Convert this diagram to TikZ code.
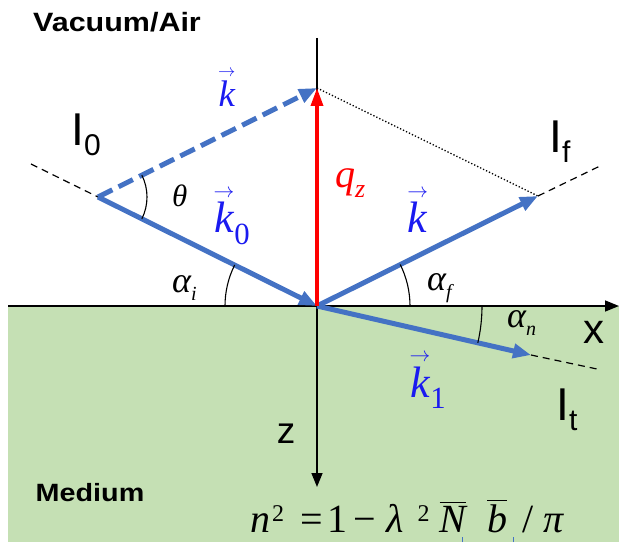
\documentclass[tikz,border=0pt]{standalone}
\usepackage{amsmath}
\usepackage{fontspec}
\setmainfont{Liberation Serif}
\setsansfont{Liberation Sans}
\usetikzlibrary{arrows.meta}

\definecolor{beamblue}{HTML}{4472C4}
\definecolor{mediumgreen}{HTML}{C5E0B4}
\definecolor{labelblue}{HTML}{1A1AF0}

\newcommand{\kvec}[1]{$\overset{\scriptscriptstyle\rightarrow}{\textit{k}}_{\textrm{#1}}$}
\newcommand{\intens}[1]{\sffamily\fontsize{46}{46}\selectfont I\raisebox{-10pt}{\fontsize{30}{30}\selectfont #1}}
\newcommand{\supdigit}{\raisebox{11pt}{\fontsize{24}{24}\selectfont 2}}

\begin{document}
\begin{tikzpicture}[x=1pt,y=1pt,
  axis/.style={line width=1.5pt,-{Triangle[length=14pt,width=11pt]}},
  beam/.style={beamblue,line width=5pt,-{Triangle[length=18pt,width=14pt]}},
  guide/.style={line width=1.2pt,dash pattern=on 7pt off 5pt},
  angle/.style={line width=1.1pt},
  kvlabel/.style={text=labelblue,font=\fontsize{44}{44}\selectfont,anchor=base},
  greek/.style={font=\fontsize{36}{36}\selectfont\itshape,anchor=base west,inner sep=0pt},
  region/.style={font=\fontsize{26.5}{26.5}\selectfont\sffamily\bfseries,xscale=1.15}]
\useasboundingbox (0,0) rectangle (619,542);
\fill[mediumgreen] (8,0) rectangle (619,236);

% points of the scattering geometry
\coordinate (O) at (317,236);
\coordinate (S) at (98,345);
\coordinate (T) at (317,454);
\coordinate (R) at (538,346);
\coordinate (Tr) at (531,187);
\coordinate (Iend) at (31,378);
\coordinate (Fend) at (600,376);
\coordinate (Tend) at (597,173);
\coordinate (Ztop) at (317,504);
\coordinate (Zbot) at (317,55);
\coordinate (Xl) at (8,236);
\coordinate (Xr) at (619,236);

% axes
\draw[axis] (Xl) -- (Xr);
\draw[axis] (Ztop) -- (Zbot);

% beam extensions
\draw[guide] (Iend) -- (S);
\draw[guide] (R) -- (Fend);
\draw[guide] (Tr) -- (Tend);
\draw[line width=1.3pt,dotted] (T) -- (R);

% wave vectors
\draw[beam,dash pattern=on 16pt off 7pt] (S) -- (T);
\draw[beam] (S) -- (O);
\draw[beam] (O) -- (R);
\draw[beam] (O) -- (Tr);
\draw[red,line width=3.5pt,-{Triangle[length=18pt,width=12pt]}] (O) -- (T);

% angles
\draw[angle] (S) ++(-26.5:49) arc[start angle=-26.5,end angle=26.5,radius=49];
\draw[angle] (O) ++(153.5:92) arc[start angle=153.5,end angle=180,radius=92];
\draw[angle] (O) ++(0:93) arc[start angle=0,end angle=26.5,radius=93];
\draw[angle] (O) ++(-12.9:165) arc[start angle=-12.9,end angle=0,radius=165];

% labels
\node[region] (air) at (117,519.5) {Vacuum/Air};
\node[region,font=\fontsize{25}{25}\selectfont\sffamily\bfseries] (med) at (90,49) {Medium};
\node (i0) at (86,407) {\intens{0}};
\node (if) at (560,400) {\intens{f}};
\node (it) at (567,132) {\intens{t}};
\node[font=\fontsize{42}{42}\selectfont\sffamily] (xl) at (594,210) {x};
\node[font=\fontsize{37}{37}\selectfont\sffamily] (zl) at (286,108) {z};
\node[kvlabel,font=\fontsize{37}{37}\selectfont] (kin) at (227,435) {\kvec{}};
\node[kvlabel] (k0) at (232,309) {\kvec{0}};
\node[kvlabel] (kout) at (418,309) {\kvec{}};
\node[kvlabel] (k1) at (428,145) {\kvec{1}};
\node[text=red,font=\fontsize{40}{40}\selectfont,anchor=base west,inner sep=0pt] (qz) at (335,354)
  {\textit{q}\raisebox{-10pt}{\fontsize{26}{26}\selectfont\textit{z}}};
\node[greek,font=\fontsize{31}{31}\selectfont\itshape] (th) at (172,335) {θ};
\node[greek] (ai) at (172,250) {α\raisebox{-8pt}{\fontsize{20}{20}\selectfont\textit{i}}};
\node[greek] (af) at (427,252) {α\raisebox{-8pt}{\fontsize{20}{20}\selectfont\textit{f}}};
\node[greek] (an) at (507,215) {α\raisebox{-8pt}{\fontsize{20}{20}\selectfont\textit{n}}};
\node[font=\fontsize{40}{40}\selectfont,anchor=base west,inner sep=0pt] (eq) at (250,10)
  {\textit{n}\hspace{2pt}\supdigit\hspace{16pt}=\hspace{5pt}1\hspace{6pt}−\hspace{10pt}\textit{λ}\hspace{14pt}\supdigit\hspace{10pt}$\overline{\textit{N}}$\hspace{21pt}$\overline{\textit{b}}$\hspace{15pt}/\hspace{10pt}\textit{π}};

% small marks below the formula
\draw[beamblue,line width=0.8pt] (462,0) -- (462,5);
\draw[beamblue,line width=0.8pt] (513,0) -- (513,5);
\end{tikzpicture}
\end{document}
